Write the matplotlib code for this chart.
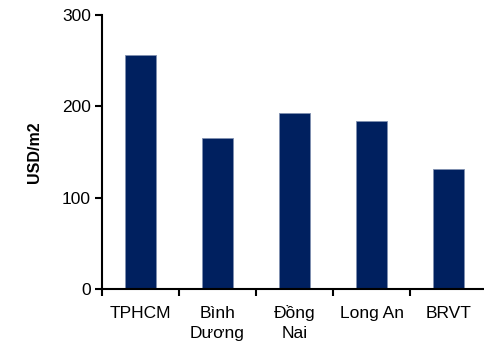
import numpy as np
import matplotlib.pyplot as plt

plt.rcParams['font.family'] = ['Liberation Sans', 'DejaVu Sans']

regions = ["TPHCM", "Bình\nDương", "Đồng\nNai", "Long An", "BRVT"]
price = [256, 165, 193, 184, 131]
yticks = [0, 100, 200, 300]

fig = plt.figure(figsize=(4.85, 3.43), dpi=100)
ax = fig.add_axes([102 / 485, 54 / 343, 385 / 485, 274 / 343])

x = np.arange(len(regions))
ax.bar(x, price, width=0.4, color="#00205f", edgecolor="#8090b0", linewidth=0.6)

ax.set_xlim(-0.5, len(regions) - 0.5)
ax.set_ylim(0, 300)
ax.set_yticks(yticks)
ax.set_xticks(np.arange(len(regions) + 1) - 0.5)
ax.set_xticklabels([])
ax.tick_params(axis="x", length=5, width=1.5, direction="out")
ax.tick_params(axis="y", length=5, width=1.5, labelsize=12.5, pad=3)

# category names drawn line by line so accented lines stay on the same baseline
for xi, name in zip(x, regions):
    for k, line in enumerate(name.split("\n")):
        ax.annotate(line, xy=(xi, 0), xycoords=("data", "axes fraction"),
                    xytext=(0, -21 - 14.4 * k), textcoords="offset points",
                    ha="center", va="baseline", fontsize=12.5)

for s in ["top", "right"]:
    ax.spines[s].set_visible(False)
for s in ["left", "bottom"]:
    ax.spines[s].set_linewidth(1.5)

ax.set_ylabel("USD/m2", fontsize=11.5, fontweight="bold", labelpad=14)

fig.savefig("out.png", dpi=100)
